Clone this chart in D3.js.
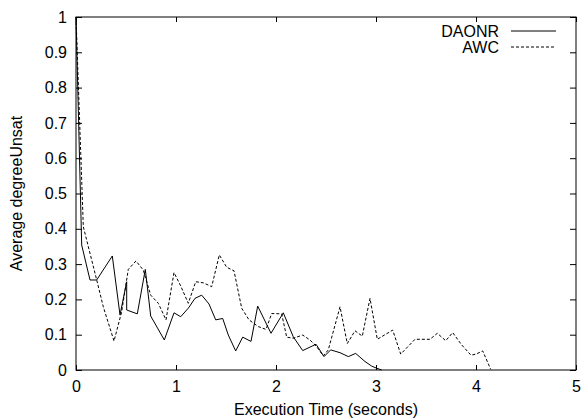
<!DOCTYPE html>
<html><head><meta charset="utf-8">
<script src="https://cdn.jsdelivr.net/npm/d3@7"></script>
<style>body{margin:0;background:#fff}svg{display:block}text{font-family:"Liberation Sans",Arial,sans-serif;font-size:16px;fill:#000}</style>
</head><body>
<script>
const seriesNames = ["DAONR", "AWC"];
const daonrX = [0,0.057,0.14,0.207,0.363,0.44,0.507,0.507,0.613,0.693,0.747,0.883,0.98,1.047,1.123,1.19,1.257,1.33,1.397,1.467,1.523,1.597,1.667,1.75,1.817,1.95,2.073,2.173,2.267,2.4,2.48,2.547,2.64,2.723,2.797,2.89,2.957,3.007,3.057];
const daonrY = [1,0.354,0.255,0.255,0.323,0.156,0.25,0.17,0.159,0.285,0.153,0.085,0.162,0.151,0.175,0.203,0.212,0.187,0.142,0.146,0.099,0.054,0.093,0.081,0.181,0.104,0.162,0.094,0.055,0.073,0.038,0.057,0.049,0.038,0.047,0.024,0.011,0.005,0];
const awcX = [0,0.073,0.207,0.273,0.38,0.457,0.523,0.6,0.673,0.747,0.823,0.9,0.98,1.047,1.123,1.197,1.273,1.357,1.433,1.507,1.58,1.657,1.73,1.823,1.9,1.957,2.057,2.107,2.173,2.267,2.34,2.407,2.473,2.523,2.64,2.713,2.79,2.863,2.94,3.013,3.167,3.247,3.39,3.54,3.613,3.697,3.767,3.857,3.95,4.0,4.067,4.147];
const awcY = [1,0.406,0.255,0.179,0.082,0.165,0.285,0.309,0.283,0.212,0.189,0.142,0.276,0.238,0.189,0.25,0.247,0.236,0.326,0.291,0.281,0.175,0.142,0.123,0.115,0.16,0.159,0.093,0.09,0.099,0.085,0.066,0.04,0.057,0.179,0.075,0.111,0.096,0.203,0.087,0.113,0.045,0.087,0.087,0.104,0.083,0.106,0.071,0.042,0.045,0.054,0.002];
const xTicks = [0,1,2,3,4,5];
const yTicks = [0,0.1,0.2,0.3,0.4,0.5,0.6,0.7,0.8,0.9,1];
const xTitle = "Execution Time (seconds)";
const yTitle = "Average degreeUnsat";

const W = 582, H = 419;
const m = {l:76, r:6, t:17, b:49};
const FS = 16;
const svg = d3.select("body").append("svg").attr("width", W).attr("height", H);
const x = d3.scaleLinear().domain([0,5]).range([m.l, W - m.r]);
const y = d3.scaleLinear().domain([0,1]).range([H - m.b, m.t]);

const g = svg.append("g");
g.append("rect").attr("x", x(0)).attr("y", y(1)).attr("width", x(5)-x(0)).attr("height", y(0)-y(1))
  .attr("fill","none").attr("stroke","#000").attr("stroke-width",1);

const ax = d3.axisBottom(x).tickValues(xTicks).tickSize(-5).tickPadding(11).tickFormat(d3.format("d"));
g.append("g").attr("transform",`translate(0,${y(0)})`).call(ax);
g.append("g").attr("transform",`translate(0,${y(1)})`).call(d3.axisTop(x).tickValues(xTicks).tickSize(-5).tickFormat(""));
const ay = d3.axisLeft(y).tickValues(yTicks).tickSize(-6).tickPadding(9).tickFormat(d => d === 0 || d === 1 ? d3.format("d")(d) : d3.format(".1f")(d));
g.append("g").attr("transform",`translate(${x(0)},0)`).call(ay);
g.append("g").attr("transform",`translate(${x(5)},0)`).call(d3.axisRight(y).tickValues(yTicks).tickSize(-6).tickFormat(""));
svg.selectAll(".domain").remove();
svg.selectAll(".tick line").attr("stroke","#000");
svg.selectAll(".tick text").attr("font-size",FS).attr("font-family",'"Liberation Sans",Arial,sans-serif').attr("fill","#000");

const line = d3.line().x(d => x(d[0])).y(d => y(d[1]));
const dA = daonrX.map((v,i)=>[v,daonrY[i]]);
const dW = awcX.map((v,i)=>[v,awcY[i]]);
svg.append("path").attr("d", line(dA)).attr("fill","none").attr("stroke","#000").attr("stroke-width",1);
svg.append("path").attr("d", line(dW)).attr("fill","none").attr("stroke","#000").attr("stroke-width",1).attr("stroke-dasharray","3,2");

const leg = [[seriesNames[0], null, 31], [seriesNames[1], "3,2", 47]];
leg.forEach(([name, dash, ly]) => {
  svg.append("text").attr("x", 499).attr("y", ly).attr("dy","0.35em").attr("text-anchor","end").text(name);
  const l = svg.append("line").attr("x1",511).attr("x2",556).attr("y1",ly).attr("y2",ly).attr("stroke","#000").attr("stroke-width",1);
  if (dash) l.attr("stroke-dasharray", dash);
});

svg.append("text").attr("x",(x(0)+x(5))/2).attr("y",415).attr("text-anchor","middle").text(xTitle);
svg.append("text").attr("transform",`translate(22,${(y(0)+y(1))/2}) rotate(-90)`).attr("text-anchor","middle").text(yTitle);
</script>
</body></html>
